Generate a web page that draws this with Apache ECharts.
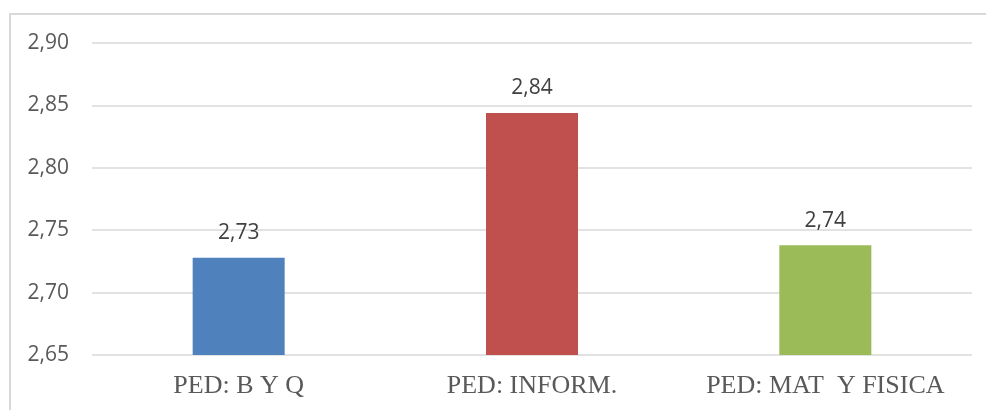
<!DOCTYPE html>
<html>
<head>
<meta charset="utf-8">
<style>
html,body{margin:0;padding:0;background:#fff;}
#chart{width:986px;height:410px;}
</style>
<script src="https://cdn.jsdelivr.net/npm/echarts@6/dist/echarts.min.js"></script>
</head>
<body>
<div id="chart"></div>
<script>
const categories = ['PED: B Y Q', 'PED: INFORM.', 'PED: MAT  Y FISICA'];
const values = [2.728, 2.844, 2.738];
const barColors = ['#4F81BD', '#C0504D', '#9BBB59'];
const yTicks = { min: 2.65, max: 2.90, interval: 0.05 };

const chart = echarts.init(document.getElementById('chart'), null, { renderer: 'canvas' });
const fmt = v => v.toFixed(2).replace('.', ',');
chart.setOption({
  animation: false,
  backgroundColor: '#ffffff',
  graphic: [{
    type: 'rect',
    shape: { x: 10, y: 14, width: 1100, height: 500 },
    style: { fill: 'none', stroke: '#D9D9D9', lineWidth: 2 },
    silent: true
  }],
  grid: { left: 92, right: 14, top: 43, bottom: 55, containLabel: false },
  xAxis: {
    type: 'category',
    data: categories,
    axisLine: { show: false },
    axisTick: { show: false },
    axisLabel: {
      interval: 0,
      hideOverlap: false,
      fontFamily: 'Liberation Serif',
      fontSize: 26,
      color: '#595959',
      margin: 18
    }
  },
  yAxis: {
    type: 'value',
    min: yTicks.min,
    max: yTicks.max,
    interval: yTicks.interval,
    axisLine: { show: false },
    axisTick: { show: false },
    splitLine: { lineStyle: { color: '#D9D9D9', width: 1.5 } },
    axisLabel: {
      fontFamily: 'Open Sans',
      fontSize: 21,
      color: '#595959',
      margin: 23,
      formatter: v => fmt(v)
    }
  },
  series: [{
    type: 'bar',
    barWidth: 92,
    data: values.map((v, i) => ({ value: v, itemStyle: { color: barColors[i] } })),
    label: {
      show: true,
      position: 'top',
      distance: 14,
      fontFamily: 'Open Sans',
      fontSize: 21,
      color: '#404040',
      formatter: p => fmt(p.value)
    }
  }]
});
</script>
</body>
</html>
